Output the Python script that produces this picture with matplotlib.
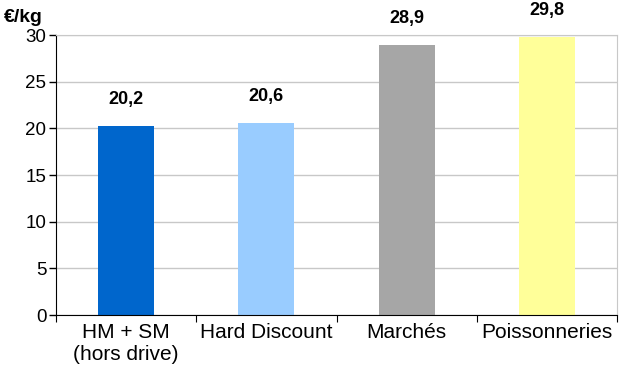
import matplotlib
matplotlib.use("Agg")
from matplotlib import pyplot as plt

categories = ["HM + SM\n(hors drive)", "Hard Discount", "Marchés", "Poissonneries"]
values = [20.2, 20.6, 28.9, 29.8]
value_labels = ["20,2", "20,6", "28,9", "29,8"]
colors = ["#0066CC", "#99CCFF", "#A6A6A6", "#FFFF99"]
yticks = [0, 5, 10, 15, 20, 25, 30]

plt.rcParams["font.family"] = ["Liberation Sans", "DejaVu Sans"]

fig = plt.figure(figsize=(6.29, 3.79), dpi=100)
ax = fig.add_axes([56 / 629, 1 - 315 / 379, (617 - 56) / 629, (315 - 35) / 379])

x = range(len(categories))
ax.bar(x, values, width=0.4, color=colors, zorder=2)
for i, (v, lab) in enumerate(zip(values, value_labels)):
    ax.annotate(lab, (i, v), xytext=(0, 13), textcoords="offset points",
                ha="center", va="bottom", fontsize=13, fontweight="bold")

ax.set_xlim(-0.5, len(categories) - 0.5)
ax.set_ylim(0, 30)
ax.set_yticks(yticks)
ax.tick_params(axis="y", labelsize=13.5, length=5, width=1, direction="out", pad=2)
ax.yaxis.grid(True, color="#C8C8C8", linewidth=1, zorder=0)
ax.set_axisbelow(True)

ax.set_xticks([i + 0.5 for i in range(-1, len(categories))])
ax.set_xticklabels([])
ax.set_xticks(list(x), minor=True)
ax.set_xticklabels(categories, minor=True, fontsize=15)
ax.tick_params(axis="x", which="major", length=5, direction="out")
ax.tick_params(axis="x", which="minor", length=0, pad=6)

ax.spines["left"].set_color("black")
ax.spines["bottom"].set_color("black")
ax.spines["top"].set_color("#C8C8C8")
ax.spines["right"].set_color("#C8C8C8")

fig.text(4 / 629, 1 - 17 / 379, "€/kg", fontsize=14, fontweight="bold", va="center", ha="left")

fig.savefig("out.png", dpi=100)
